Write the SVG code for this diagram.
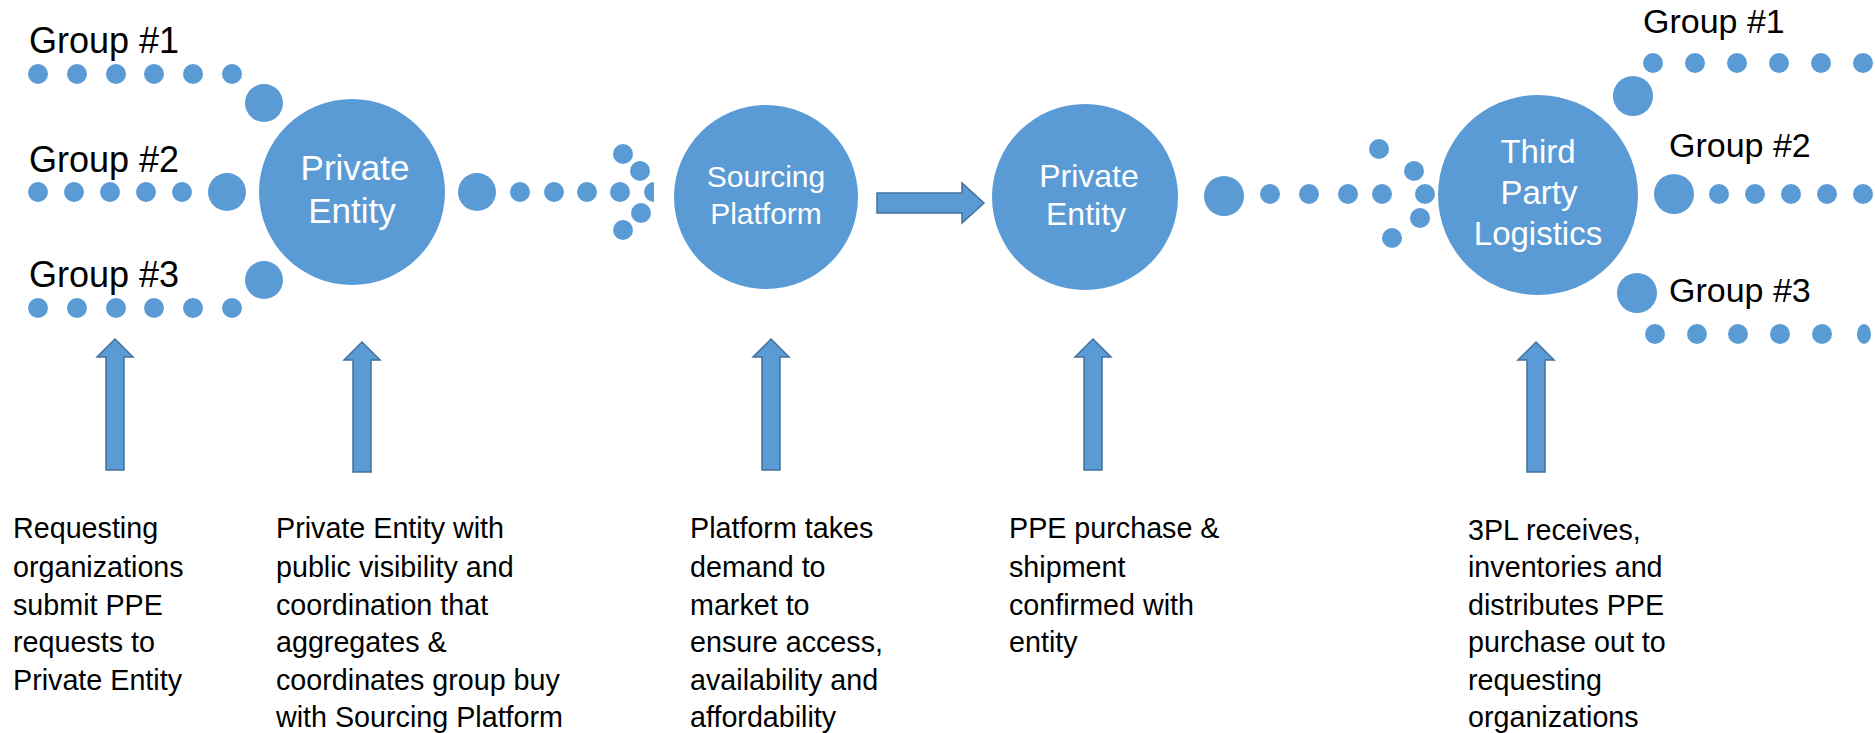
<svg xmlns="http://www.w3.org/2000/svg" width="1875" height="733" viewBox="0 0 1875 733">
<style>
.d{fill:#5B9BD5}
.c{fill:#5B9BD5}
.ar{fill:#5B9BD5;stroke:#41719C;stroke-width:1.5}
.lbl{font-family:"Liberation Sans",Arial,sans-serif;fill:#000}
.g{font-size:36px}
.gr{font-size:34px}
.ct{font-family:"Liberation Sans",Arial,sans-serif;fill:#fff;text-anchor:middle}
.t{font-family:"Liberation Sans",Arial,sans-serif;font-size:28.7px;fill:#000}
</style>
<rect width="1875" height="733" fill="#fff"/>

<g id="group1-left">
<text class="lbl g" x="29" y="53">Group #1</text>
<circle class="d" cx="38" cy="74" r="10"/><circle class="d" cx="77" cy="74" r="10"/><circle class="d" cx="116" cy="74" r="10"/><circle class="d" cx="154" cy="74" r="10"/><circle class="d" cx="193" cy="74" r="10"/><circle class="d" cx="232" cy="74" r="10"/>
</g>
<g id="group2-left">
<text class="lbl g" x="29" y="172">Group #2</text>
<circle class="d" cx="38" cy="192" r="10"/><circle class="d" cx="74" cy="192" r="10"/><circle class="d" cx="110" cy="192" r="10"/><circle class="d" cx="146" cy="192" r="10"/><circle class="d" cx="182" cy="192" r="10"/>
</g>
<g id="group3-left">
<text class="lbl g" x="29" y="287">Group #3</text>
<circle class="d" cx="38" cy="308" r="10"/><circle class="d" cx="77" cy="308" r="10"/><circle class="d" cx="116" cy="308" r="10"/><circle class="d" cx="154" cy="308" r="10"/><circle class="d" cx="193" cy="308" r="10"/><circle class="d" cx="232" cy="308" r="10"/>
</g>

<g id="private-entity-1">
<circle class="c" cx="352" cy="192" r="93"/>
<text class="ct" x="355" y="180" font-size="35">Private</text>
<text class="ct" x="352" y="223" font-size="35">Entity</text>
</g>

<g id="sourcing-platform">
<circle class="c" cx="766" cy="197" r="92"/>
<text class="ct" x="766" y="187" font-size="30">Sourcing</text>
<text class="ct" x="766" y="224" font-size="30">Platform</text>
</g>

<g id="private-entity-2">
<circle class="c" cx="1085" cy="197" r="93"/>
<text class="ct" x="1089" y="187" font-size="32">Private</text>
<text class="ct" x="1086" y="225" font-size="32">Entity</text>
</g>

<g id="third-party-logistics">
<circle class="c" cx="1538" cy="195" r="100"/>
<text class="ct" x="1538" y="163" font-size="33">Third</text>
<text class="ct" x="1539" y="204" font-size="33">Party</text>
<text class="ct" x="1538" y="245" font-size="33">Logistics</text>
</g>

<g id="group1-right">
<text class="lbl gr" x="1643" y="33">Group #1</text>
<circle class="d" cx="1653" cy="63" r="10"/><circle class="d" cx="1695" cy="63" r="10"/><circle class="d" cx="1737" cy="63" r="10"/><circle class="d" cx="1779" cy="63" r="10"/><circle class="d" cx="1821" cy="63" r="10"/><circle class="d" cx="1863" cy="63" r="10"/>
</g>
<g id="group2-right">
<text class="lbl gr" x="1669" y="157">Group #2</text>
<circle class="d" cx="1719" cy="194" r="10"/><circle class="d" cx="1755" cy="194" r="10"/><circle class="d" cx="1791" cy="194" r="10"/><circle class="d" cx="1827" cy="194" r="10"/><circle class="d" cx="1863" cy="194" r="10"/>
</g>
<g id="group3-right">
<text class="lbl gr" x="1669" y="302">Group #3</text>
<circle class="d" cx="1655" cy="334" r="10"/><circle class="d" cx="1697" cy="334" r="10"/><circle class="d" cx="1738" cy="334" r="10"/><circle class="d" cx="1780" cy="334" r="10"/><circle class="d" cx="1822" cy="334" r="10"/><ellipse class="d" cx="1864" cy="334" rx="7" ry="10"/>
</g>

<g id="connectors">
<!-- left groups into Private Entity -->
<circle class="d" cx="264" cy="103" r="19"/>
<circle class="d" cx="227" cy="192" r="19"/>
<circle class="d" cx="264" cy="280" r="19"/>
<!-- Private Entity to Sourcing Platform -->
<circle class="d" cx="477" cy="192" r="19"/>
<circle class="d" cx="520" cy="192" r="10"/><circle class="d" cx="554" cy="192" r="10"/><circle class="d" cx="587" cy="192" r="10"/><circle class="d" cx="620" cy="192" r="10"/>
<circle class="d" cx="623" cy="154" r="10"/><circle class="d" cx="640" cy="171" r="10"/>
<path class="d" d="M654,182 A10,10 0 0 0 654,202 Z"/>
<circle class="d" cx="641" cy="213" r="10"/><circle class="d" cx="623" cy="230" r="10"/>
<!-- Sourcing Platform to Private Entity -->
<path class="ar" d="M877,193 H962 V183 L984,203 L962,223 V213 H877 Z"/>
<!-- Private Entity to Third Party Logistics -->
<circle class="d" cx="1224" cy="196" r="20"/>
<circle class="d" cx="1270" cy="194" r="10"/><circle class="d" cx="1309" cy="194" r="10"/><circle class="d" cx="1348" cy="194" r="10"/><circle class="d" cx="1382" cy="194" r="10"/>
<circle class="d" cx="1379" cy="149" r="10"/><circle class="d" cx="1414" cy="171" r="10"/><circle class="d" cx="1425" cy="194" r="10"/><circle class="d" cx="1420" cy="218" r="10"/><circle class="d" cx="1392" cy="238" r="10"/>
<!-- Third Party Logistics out to groups -->
<circle class="d" cx="1633" cy="96" r="20"/>
<circle class="d" cx="1674" cy="194" r="20"/>
<circle class="d" cx="1637" cy="293" r="20"/>
<!-- vertical arrows -->
<path class="ar" d="M106,470 V357 H97 L115,339 L133,357 H124 V470 Z"/>
<path class="ar" d="M353,472 V360 H344 L362,342 L380,360 H371 V472 Z"/>
<path class="ar" d="M762,470 V357 H753 L771,339 L789,357 H780 V470 Z"/>
<path class="ar" d="M1084,470 V357 H1075 L1093,339 L1111,357 H1102 V470 Z"/>
<path class="ar" d="M1527,472 V360 H1518 L1536,342 L1554,360 H1545 V472 Z"/>
</g>

<g id="desc-1">
<text class="t" x="13" y="538">Requesting</text>
<text class="t" x="13" y="577">organizations</text>
<text class="t" x="13" y="615">submit PPE</text>
<text class="t" x="13" y="652">requests to</text>
<text class="t" x="13" y="690">Private Entity</text>
</g>
<g id="desc-2">
<text class="t" x="276" y="538">Private Entity with</text>
<text class="t" x="276" y="577">public visibility and</text>
<text class="t" x="276" y="615">coordination that</text>
<text class="t" x="276" y="652">aggregates &amp;</text>
<text class="t" x="276" y="690">coordinates group buy</text>
<text class="t" x="276" y="727">with Sourcing Platform</text>
</g>
<g id="desc-3">
<text class="t" x="690" y="538">Platform takes</text>
<text class="t" x="690" y="577">demand to</text>
<text class="t" x="690" y="615">market to</text>
<text class="t" x="690" y="652">ensure access,</text>
<text class="t" x="690" y="690">availability and</text>
<text class="t" x="690" y="727">affordability</text>
</g>
<g id="desc-4">
<text class="t" x="1009" y="538">PPE purchase &amp;</text>
<text class="t" x="1009" y="577">shipment</text>
<text class="t" x="1009" y="615">confirmed with</text>
<text class="t" x="1009" y="652">entity</text>
</g>
<g id="desc-5">
<text class="t" x="1468" y="540">3PL receives,</text>
<text class="t" x="1468" y="577">inventories and</text>
<text class="t" x="1468" y="615">distributes PPE</text>
<text class="t" x="1468" y="652">purchase out to</text>
<text class="t" x="1468" y="690">requesting</text>
<text class="t" x="1468" y="727">organizations</text>
</g>
</svg>
